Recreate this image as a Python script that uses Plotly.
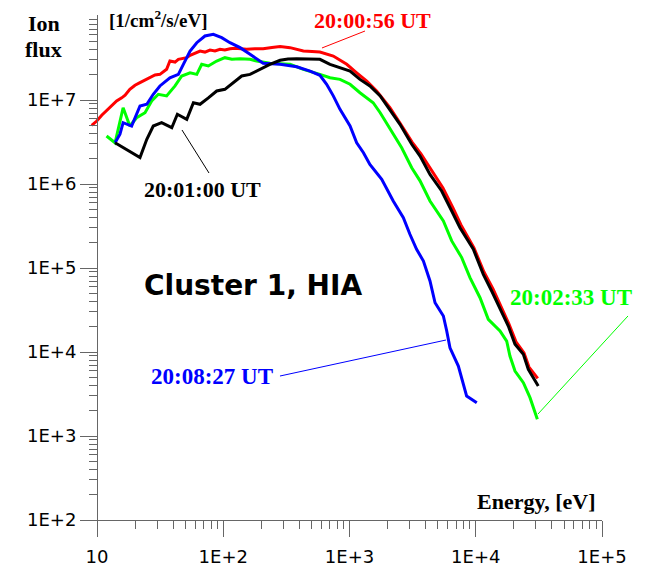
import plotly.graph_objects as go

# ---------------- data ----------------
red_E = [9.08, 9.95, 10.9, 11.9, 13.1, 14.3, 15.7, 16.7, 18.2, 20.0, 21.9, 24.0, 26.3, 28.8, 31.5,
         34.0, 35.6, 37.8, 41.5, 44.1, 48.3, 51.4, 54.6, 59.7, 65.5, 71.6, 78.5, 86.0, 94.2, 103,
         113, 124, 136, 153, 178, 207, 243, 282, 338, 384, 431, 505, 583, 744, 951, 1140, 1370,
         1640, 2090, 2510, 3130, 3680, 4500, 5500, 6600, 7640, 9680, 11620, 13700, 15850, 18330,
         20840, 24120, 26400, 30970]
red_F = [5.0e6, 5.62e6, 6.58e6, 7.40e6, 8.49e6, 9.73e6, 1.06e7, 1.14e7, 1.34e7, 1.50e7, 1.61e7,
         1.73e7, 1.84e7, 1.99e7, 2.02e7, 2.21e7, 2.32e7, 2.91e7, 2.83e7, 3.05e7, 3.10e7, 3.19e7,
         3.40e7, 3.60e7, 3.83e7, 3.72e7, 3.94e7, 3.83e7, 4.02e7, 3.94e7, 4.08e7, 4.13e7, 4.08e7,
         4.02e7, 4.08e7, 4.08e7, 4.22e7, 4.32e7, 4.20e7, 3.99e7, 3.83e7, 3.78e7, 3.72e7, 3.34e7,
         2.66e7, 2.11e7, 1.68e7, 1.28e7, 8.09e6, 5.32e6, 3.16e6, 2.28e6, 1.43e6, 8.96e5, 5.18e5,
         3.25e5, 1.73e5, 8.96e4, 5.62e4, 3.44e4, 2.15e4, 1.32e4, 9.73e3, 6.62e3, 4.86e3]

black_E = [13.9, 21.9, 24.8, 27.9, 32.5, 39.1, 43.3, 51.4, 58.0, 65.5, 76.2, 88.7, 103, 120, 140,
           163, 195, 234, 282, 326, 382, 487, 583, 701, 841, 1010, 1210, 1450, 1750, 2090, 2510,
           3110, 3620, 4340, 5370, 6450, 7500, 9570, 11480, 13370, 15560, 18110, 20460, 23830,
           26080, 31260]
black_F = [3.10e6, 2.06e6, 3.41e6, 4.90e6, 5.37e6, 4.68e6, 6.76e6, 5.89e6, 9.29e6, 8.89e6, 1.06e7,
           1.28e7, 1.34e7, 1.61e7, 1.93e7, 2.02e7, 2.32e7, 2.66e7, 2.97e7, 3.08e7, 3.10e7, 3.10e7,
           3.05e7, 2.66e7, 2.43e7, 2.21e7, 1.76e7, 1.47e7, 1.12e7, 7.74e6, 5.14e6, 2.97e6, 2.15e6,
           1.30e6, 8.26e5, 4.77e5, 3.02e5, 1.67e5, 8.41e4, 5.32e4, 3.37e4, 2.04e4, 1.24e4, 9.40e3,
           6.22e3, 3.94e3]

green_E = [11.9, 13.9, 16.1, 18.2, 20.6, 24.0, 27.1, 30.6, 35.6, 41.5, 46.9, 54.6, 61.7, 67.5, 76.2,
           88.7, 103, 117, 136, 163, 184, 234, 338, 431, 583, 701, 841, 1010, 1210, 1540, 1750,
           2160, 2590, 3110, 3620, 4340, 5540, 6450, 7740, 9000, 10810, 12570, 15560, 17580,
           18660, 20460, 23830, 26900, 30760]
green_F = [3.73e6, 3.10e6, 8.09e6, 4.90e6, 6.15e6, 7.06e6, 9.73e6, 1.17e7, 1.12e7, 1.47e7, 1.93e7,
           2.11e7, 2.02e7, 2.66e7, 2.54e7, 2.91e7, 3.19e7, 3.05e7, 3.10e7, 3.05e7, 2.91e7, 2.74e7,
           2.66e7, 2.32e7, 2.02e7, 1.84e7, 1.76e7, 1.54e7, 1.22e7, 9.29e6, 7.06e6, 4.28e6, 2.70e6,
           1.56e6, 1.09e6, 6.28e5, 3.63e5, 2.10e5, 1.33e5, 7.67e4, 4.43e4, 2.45e4, 1.78e4, 1.35e4,
           8.95e3, 5.94e3, 4.31e3, 2.86e3, 1.58e3]

blue_E = [13.9, 15.2, 16.1, 18.8, 21.9, 24.8, 27.9, 31.5, 37.8, 44.1, 48.3, 54.6, 61.7, 71.6, 83.4,
          97.2, 113, 136, 163, 207, 282, 382, 487, 583, 659, 744, 841, 1010, 1140, 1290, 1450,
          1800, 2220, 2670, 3010, 3400, 3850, 4340, 4760, 5540, 5890, 6250, 7280, 7960, 8470,
          10190]
blue_F = [3.10e6, 3.91e6, 5.37e6, 4.90e6, 8.49e6, 8.89e6, 1.17e7, 1.47e7, 1.84e7, 2.02e7, 2.66e7,
          3.83e7, 4.81e7, 5.78e7, 6.05e7, 5.52e7, 4.81e7, 4.20e7, 3.50e7, 2.74e7, 2.66e7, 2.49e7,
          2.21e7, 1.97e7, 1.54e7, 1.12e7, 7.74e6, 4.90e6, 3.10e6, 2.36e6, 1.71e6, 1.14e6, 6.28e5,
          3.97e5, 2.52e5, 1.67e5, 1.21e5, 7.00e4, 3.86e4, 2.68e4, 1.78e4, 1.12e4, 6.81e3, 4.12e3,
          2.99e3, 2.49e3]

x_tickvals = [10, 100, 1000, 10000, 100000]
x_ticktext = ["10", "1E+2", "1E+3", "1E+4", "1E+5"]
y_tickvals = [1e2, 1e3, 1e4, 1e5, 1e6, 1e7]
y_ticktext = ["1E+2", "1E+3", "1E+4", "1E+5", "1E+6", "1E+7"]

series_names = ["20:00:56 UT", "20:02:33 UT", "20:08:27 UT", "20:01:00 UT"]
series_colors = ["#ff0000", "#00ff00", "#0000ff", "#000000"]
series_E = [red_E, green_E, blue_E, black_E]
series_F = [red_F, green_F, blue_F, black_F]

# ---------------- figure ----------------
fig = go.Figure()
for name, col, E, F in zip(series_names, series_colors, series_E, series_F):
    fig.add_trace(go.Scatter(x=E, y=F, mode="lines", name=name,
                             line=dict(color=col, width=3)))

x_minor = [m * 10 ** d for d in range(1, 5) for m in range(2, 10)]
y_minor = [m * 10 ** d for d in range(2, 8) for m in range(2, 10)]

axis_col = "#666666"
tick_font = dict(family="DejaVu Sans", size=18, color="black")

# the page body has an 8px margin, so the figure is 8px smaller than the window
fig.update_layout(
    width=643, height=560,
    margin=dict(l=72, r=49, t=7, b=48, autoexpand=False),
    plot_bgcolor="white", paper_bgcolor="white",
    showlegend=False,
    xaxis=dict(type="log", range=[0.8653, 5.0], showgrid=False, zeroline=False,
               automargin=False,
               showline=True, linecolor=axis_col, linewidth=1,
               ticks="outside", ticklen=16, tickwidth=1, tickcolor=axis_col,
               ticklabelstandoff=4,
               tickvals=x_tickvals, ticktext=x_ticktext, tickfont=tick_font,
               minor=dict(tickvals=x_minor, ticks="outside", ticklen=8, tickwidth=1,
                          tickcolor=axis_col, showgrid=False)),
    yaxis=dict(type="log", range=[2.0, 8.012], showgrid=False, zeroline=False,
               automargin=False,
               anchor="free", position=17 / 522,
               showline=True, linecolor=axis_col, linewidth=1,
               ticks="outside", ticklen=17, tickwidth=1, tickcolor=axis_col,
               tickvals=y_tickvals, ticktext=y_ticktext, tickfont=tick_font,
               minor=dict(tickvals=y_minor, ticks="outside", ticklen=8, tickwidth=1,
                          tickcolor=axis_col, showgrid=False)),
)

serif = "Liberation Serif"


def label(text, x, y, color="black", size=22, family=serif, xanchor="center", yanchor="middle"):
    fig.add_annotation(text=text, x=x, y=y, xref="paper", yref="paper", showarrow=False,
                       xanchor=xanchor, yanchor=yanchor,
                       font=dict(family=family, size=size, color=color, weight="bold"))


label("Ion", -0.069, 0.984)
label("flux", -0.069, 0.931)
label("[1/cm<sup>2</sup>/s/eV]", 0.0517, 0.992, size=19, xanchor="left")
label("20:00:56 UT", 0.5603, 0.989, color="#ff0000", size=22)
label("20:01:00 UT", 0.2356, 0.6554, color="black", size=22)
label("20:02:33 UT", 0.9397, 0.4406, color="#00ff00", size=23)
label("20:08:27 UT", 0.2538, 0.2851, color="#0000ff", size=23)
label("Cluster 1, HIA", 0.3305, 0.4653, size=28, family="DejaVu Sans")
label("Energy, [eV]", 0.9923, 0.0376, size=22, xanchor="right")

leaders = [
    ("#ff0000", 0.4636, 0.9347, 0.5460, 0.9683),
    ("#000000", 0.1954, 0.7723, 0.2471, 0.6871),
    ("#00ff00", 0.8774, 0.2099, 1.0498, 0.4040),
    ("#0000ff", 0.3831, 0.2851, 0.7011, 0.3564),
]
for col, x0, y0, x1, y1 in leaders:
    fig.add_shape(type="line", xref="paper", yref="paper", x0=x0, y0=y0, x1=x1, y1=y1,
                  line=dict(color=col, width=1))

fig.write_html("out.html")
